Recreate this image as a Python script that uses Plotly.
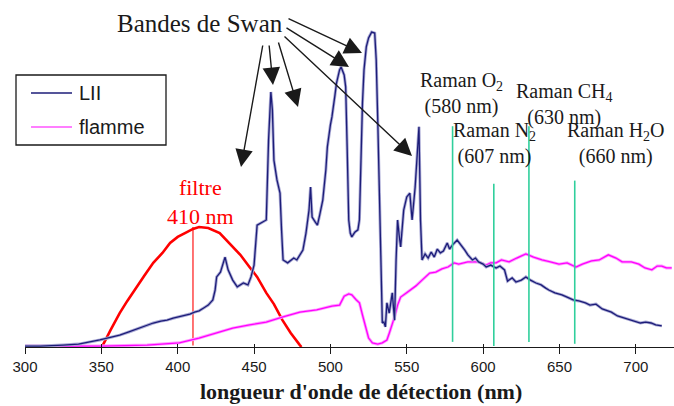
import plotly.graph_objects as go

# ---- spectra (wavelength in nm, intensity in arbitrary units) ----
lii_nm = [300, 310, 325, 335, 349, 356, 362, 368, 373, 378, 384, 389, 393, 397, 401, 405, 408, 411, 414, 417,
          420, 423, 424.5, 425.5, 428, 431, 433, 436, 439, 443, 446, 448, 450, 452, 455, 458, 459.5, 461, 462, 463,
          465, 467, 468, 469, 472, 474, 476, 478, 480, 482, 484, 486, 487, 488, 490, 491.5, 493, 495, 497, 498,
          500, 501, 503, 504, 506, 507, 509, 510, 511, 512, 513, 514, 516, 518, 519, 520, 521, 522, 523.5, 525,
          527, 529, 530, 531, 532, 533, 534, 535, 536, 537, 538.5, 540.5, 542, 543, 544, 545, 546, 548, 550, 552,
          553.5, 555.5, 557, 558, 559, 560, 562, 564, 566, 568, 570, 572, 574, 576.5, 578, 580, 583, 586, 588, 590,
          593, 595, 597, 600, 602, 605, 608.5, 611, 614, 616, 619, 621.5, 625, 628, 631, 634.6, 638, 641, 643,
          647, 651.6, 655, 659, 662.7, 667, 670, 673.9, 678, 681, 684, 688, 692, 695, 699, 703, 706.5, 710,
          713, 717, 720, 723.5]
lii_val = [0.003, 0.003, 0.006, 0.009, 0.022, 0.030, 0.037, 0.047, 0.056, 0.063, 0.075, 0.081, 0.084, 0.090, 0.094,
           0.100, 0.103, 0.109, 0.113, 0.122, 0.131, 0.147, 0.178, 0.219, 0.234, 0.281, 0.241, 0.209, 0.188, 0.200,
           0.194, 0.219, 0.256, 0.381, 0.388, 0.397, 0.647, 0.797, 0.741, 0.584, 0.522, 0.481, 0.366, 0.272, 0.263,
           0.272, 0.278, 0.272, 0.288, 0.303, 0.356, 0.428, 0.500, 0.406, 0.391, 0.381, 0.413, 0.459, 0.553, 0.625,
           0.694, 0.719, 0.788, 0.825, 0.866, 0.875, 0.850, 0.813, 0.616, 0.397, 0.356, 0.344, 0.359, 0.366, 0.397,
           0.584, 0.763, 0.866, 0.938, 0.966, 0.984, 0.981, 0.897, 0.709, 0.491, 0.294, 0.075, 0.078, 0.063, 0.138,
           0.106, 0.169, 0.084, 0.272, 0.397, 0.350, 0.313, 0.428, 0.469, 0.481, 0.397, 0.500, 0.625, 0.688, 0.397,
           0.272, 0.291, 0.278, 0.297, 0.281, 0.306, 0.294, 0.300, 0.325, 0.306, 0.319, 0.334, 0.316, 0.303, 0.288,
           0.272, 0.278, 0.266, 0.259, 0.250, 0.256, 0.247, 0.253, 0.241, 0.206, 0.216, 0.203, 0.209, 0.219, 0.209,
           0.200, 0.194, 0.184, 0.178, 0.169, 0.163, 0.156, 0.147, 0.144, 0.138, 0.131, 0.134, 0.119, 0.113, 0.109,
           0.097, 0.091, 0.088, 0.081, 0.075, 0.078, 0.075, 0.069, 0.066]

flamme_nm = [300, 350, 380, 401, 414, 425, 436, 447, 458, 469, 480, 491, 501, 506, 509, 512, 514, 517, 519, 521,
             523.5, 525, 527.5, 531, 534, 537, 538.6, 540, 542, 544, 546, 549.7, 553, 556, 560, 565, 569, 573, 577,
             581, 584, 590, 597, 602, 605, 608.5, 612, 617, 622, 628, 633, 638.6, 644, 649.7, 655, 660.8, 665,
             671, 676, 682, 687, 691, 697, 702, 706, 710.5, 714, 717, 720, 723.5]
flamme_val = [0.003, 0.003, 0.006, 0.013, 0.028, 0.044, 0.059, 0.069, 0.078, 0.094, 0.109, 0.116, 0.128, 0.131,
              0.159, 0.166, 0.163, 0.147, 0.138, 0.100, 0.053, 0.028, 0.013, 0.009, 0.013, 0.022, 0.044, 0.063,
              0.094, 0.131, 0.156, 0.169, 0.181, 0.191, 0.209, 0.231, 0.234, 0.244, 0.250, 0.263, 0.259, 0.266,
              0.266, 0.256, 0.263, 0.263, 0.272, 0.266, 0.278, 0.291, 0.281, 0.272, 0.266, 0.259, 0.263, 0.250,
              0.259, 0.269, 0.272, 0.288, 0.278, 0.266, 0.266, 0.259, 0.247, 0.241, 0.253, 0.253, 0.247, 0.247]

filtre_nm = [350.5, 351, 356, 362, 367, 373, 378, 384, 390, 395, 400, 406, 410, 414, 420, 427.5, 436, 441, 447,
             452, 458, 463, 468.6, 474, 480, 481]
filtre_val = [0.0, 0.006, 0.053, 0.106, 0.144, 0.188, 0.222, 0.263, 0.294, 0.325, 0.344, 0.359, 0.369, 0.375,
              0.372, 0.356, 0.313, 0.288, 0.250, 0.219, 0.169, 0.134, 0.084, 0.044, 0.006, 0.0]
filtre_centre = 410

# Raman lines: wavelength, line extent, species label
raman_nm = [580, 607, 630, 660]
raman_top = [0.69, 0.51, 0.69, 0.52]
raman_bottom = [0.016, 0.003, 0.016, 0.01]
raman_species = ["O<sub>2</sub>", "N<sub>2</sub>", "CH<sub>4</sub>", "H<sub>2</sub>O"]

x_ticks = [300, 350, 400, 450, 500, 550, 600, 650, 700]
series_names = ["LII", "flamme"]

W, H = 674, 406
ML, MR, MT, MB = 25, 0, 0, 59
PW, PH = W - ML - MR, H - MT - MB
X_RANGE = [300, 725]
Y_RANGE = [0, PH / 320]


def px(xp):
    return (xp - ML) / PW


def py(yp):
    return (H - MB - yp) / PH


def nm_of(xp):
    return X_RANGE[0] + (xp - ML) / PW * (X_RANGE[1] - X_RANGE[0])


def v_of(yp):
    return (H - MB - yp) / 320


LII_COL = "#1c1c78"
FLAMME_COL = "#ff00ff"
RAMAN_COL = "#30cf9c"
INK = "#1a1a1a"
SERIF = "Liberation Serif, Times New Roman, serif"
SANS = "Liberation Sans, Arial, sans-serif"

fig = go.Figure()

# filter transmission curve and its centre marker
fig.add_trace(go.Scatter(x=filtre_nm, y=filtre_val, mode="lines",
                         line=dict(color="#ff0000", width=2.6), showlegend=False, hoverinfo="skip"))
fig.add_trace(go.Scatter(x=[filtre_centre, filtre_centre], y=[0.005, max(filtre_val)], mode="lines",
                         line=dict(color="#ff0000", width=1.1), showlegend=False, hoverinfo="skip"))

# flame emission
fig.add_trace(go.Scatter(x=flamme_nm, y=flamme_val, mode="lines",
                         line=dict(color="#ff9cff", width=3), showlegend=False, hoverinfo="skip"))
fig.add_trace(go.Scatter(x=flamme_nm, y=flamme_val, mode="lines", name=series_names[1],
                         line=dict(color=FLAMME_COL, width=1.3), showlegend=False))

# LII signal
fig.add_trace(go.Scatter(x=lii_nm, y=lii_val, mode="lines",
                         line=dict(color="#a9a9d4", width=3), showlegend=False, hoverinfo="skip"))
fig.add_trace(go.Scatter(x=lii_nm, y=lii_val, mode="lines", name=series_names[0],
                         line=dict(color=LII_COL, width=1.3), showlegend=False))

# Raman lines
for nm, top, bot in zip(raman_nm, raman_top, raman_bottom):
    fig.add_trace(go.Scatter(x=[nm, nm], y=[bot, top], mode="lines",
                             line=dict(color=RAMAN_COL, width=1.6), showlegend=False, hoverinfo="skip"))

# crossing tick marks: second axis carries the inner half of each tick
fig.add_trace(go.Scatter(x=[X_RANGE[0]], y=[0], xaxis="x2", mode="markers",
                         marker=dict(opacity=0), showlegend=False, hoverinfo="skip"))

annotations = []


def label(x, y, text, size, color=INK, family=SERIF, anchor="center"):
    annotations.append(dict(x=px(x), y=py(y), xref="paper", yref="paper", text=text, showarrow=False,
                            font=dict(family=family, size=size, color=color),
                            xanchor=anchor, yanchor="middle"))


# Swan band label and arrows (tail, tip in pixel positions)
label(200, 23, "Bandes de Swan", 25)
swan_arrows = [((263, 44), (241, 167)), ((269, 44), (273, 85)), ((278, 41), (298, 107)),
               ((287, 18), (362, 53)), ((285, 27), (349, 67)), ((283, 35), (412, 156))]
for (tx, ty), (hx, hy) in swan_arrows:
    annotations.append(dict(x=nm_of(hx), y=v_of(hy), ax=nm_of(tx), ay=v_of(ty), xref="x", yref="y",
                            axref="x", ayref="y", text="", showarrow=True, arrowhead=2,
                            arrowsize=2.5, arrowwidth=1.4, arrowcolor=INK, standoff=0))

# filter label
label(200, 202, f"filtre<br>{filtre_centre} nm", 22, color="#ff0000")

# Raman labels (centre of the two-line block)
raman_pos = [(461, 93), (495, 144), (564, 105), (616, 144)]
for (lx, ly), sp, nm in zip(raman_pos, raman_species, raman_nm):
    label(lx, ly, f"Raman {sp}<br>({nm} nm)", 20)

# axis title
label(361, 391, "<b>longueur d'onde de détection (nm)</b>", 22)

# legend
shapes = [dict(type="rect", xref="paper", yref="paper", x0=px(16), x1=px(166), y0=py(75), y1=py(145),
               line=dict(color=INK, width=1.3), fillcolor="white", layer="above")]
for name, col, ly in [(series_names[0], LII_COL, 93), (series_names[1], "#ff55ff", 127)]:
    shapes.append(dict(type="line", xref="paper", yref="paper", x0=px(31), x1=px(72), y0=py(ly), y1=py(ly),
                       line=dict(color=col, width=1.4), layer="above"))
    label(77, ly, name, 20, family=SANS, anchor="left")

fig.update_layout(
    width=W, height=H,
    margin=dict(l=ML, r=MR, t=MT, b=MB),
    paper_bgcolor="white", plot_bgcolor="white",
    showlegend=False,
    xaxis=dict(range=X_RANGE, tickvals=x_ticks, ticktext=[str(t) for t in x_ticks],
               showgrid=False, zeroline=False, showline=True, linecolor=INK, linewidth=1.3,
               ticks="outside", ticklen=6, tickwidth=1.3, tickcolor=INK,
               tickfont=dict(family=SANS, size=15, color=INK), fixedrange=True),
    xaxis2=dict(range=X_RANGE, tickvals=x_ticks, overlaying="x", anchor="y", side="bottom",
                showgrid=False, zeroline=False, showline=False, showticklabels=False,
                ticks="inside", ticklen=3, tickwidth=1.3, tickcolor=INK),
    yaxis=dict(range=Y_RANGE, visible=False, fixedrange=True),
    annotations=annotations,
    shapes=shapes,
)

fig.write_html("out.html")
